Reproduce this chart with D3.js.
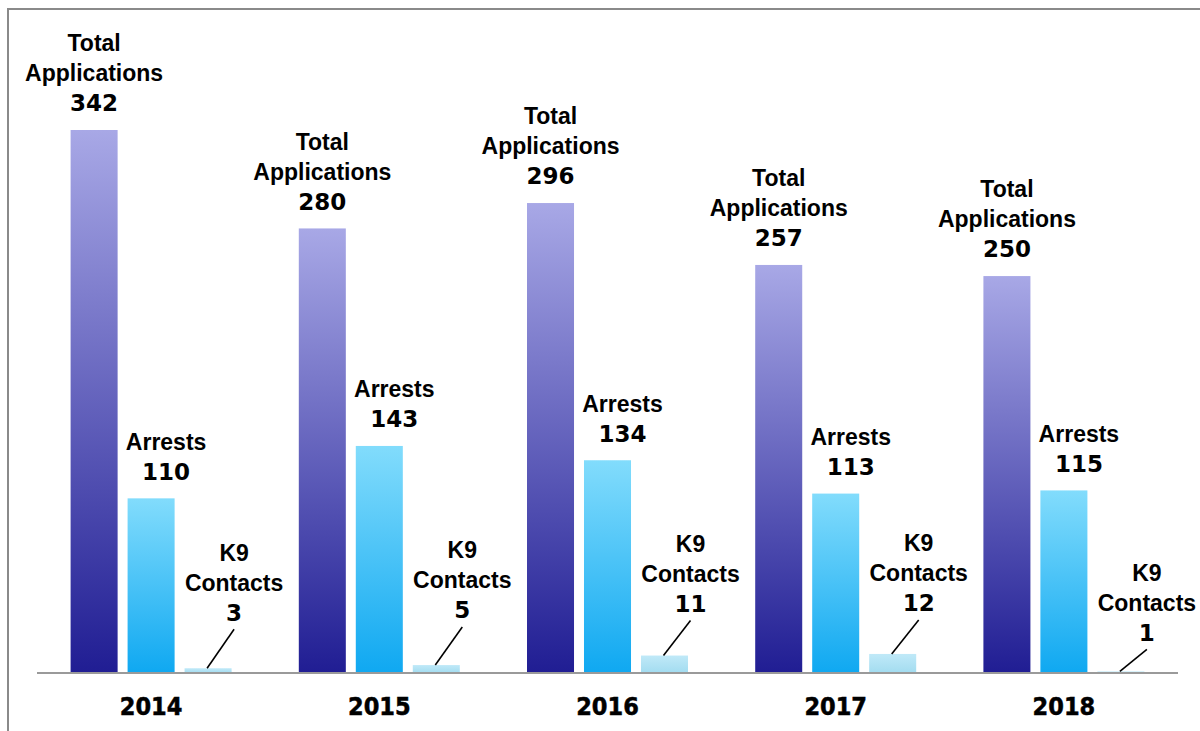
<!DOCTYPE html>
<html>
<head>
<meta charset="utf-8">
<script src="https://cdn.jsdelivr.net/npm/d3@7"></script>
<style>
  body { margin: 0; background: #fff; }
  text { font-family: "Liberation Sans", Arial, sans-serif; font-weight: bold; fill: #000; }
  text.num { font-family: "DejaVu Sans", sans-serif; }
  text.yr { font-family: "DejaVu Sans Condensed", "DejaVu Sans", sans-serif; font-stretch: condensed; }
</style>
</head>
<body>
<div class="chart"></div>
<script>
var years = ["2014", "2015", "2016", "2017", "2018"];
var series = ["Total Applications", "Arrests", "K9 Contacts"];
var totalApps = [342, 280, 296, 257, 250];
var arrests = [110, 143, 134, 113, 115];
var k9Contacts = [3, 5, 11, 12, 1];

// how far the K9 labels sit above their bars (hand placed in the original)
var k9Lift = [56, 55, 52, 51, 39];

var width = 1200, height = 731;
var baseY = 673;

var svg = d3.select(".chart").append("svg")
  .attr("width", width)
  .attr("height", height);

var defs = svg.append("defs");

function grad(id, top, bottom) {
  var g = defs.append("linearGradient")
    .attr("id", id)
    .attr("x1", 0).attr("y1", 0).attr("x2", 0).attr("y2", 1);
  g.append("stop").attr("offset", "0%").attr("stop-color", top);
  g.append("stop").attr("offset", "100%").attr("stop-color", bottom);
}
grad("g0", "#a8a8e6", "#201d93");
grad("g1", "#82dcfc", "#0fa8f1");
grad("g2", "#c0e9f8", "#a2dcf0");

// frame
svg.append("line")
  .attr("x1", 8).attr("x2", 8).attr("y1", 8).attr("y2", height)
  .attr("stroke", "#8a8a8a").attr("stroke-width", 2);
svg.append("line")
  .attr("x1", 8).attr("x2", width).attr("y1", 9).attr("y2", 9)
  .attr("stroke", "#8a8a8a").attr("stroke-width", 2);

var x0 = d3.scaleBand()
  .domain(years)
  .range([37, 1178])
  .paddingInner(0.2945)
  .paddingOuter(0.14725);

var x1 = d3.scaleBand()
  .domain(series)
  .range([0, x0.bandwidth()])
  .paddingInner(0.175);

var y = d3.scaleLinear()
  .domain([0, 342])
  .range([baseY, 130]);

var rows = years.map(function(yr, i) {
  return [
    {year: yr, s: series[0], v: totalApps[i], k: 0, lines: ["Total", "Applications"], dx: 0},
    {year: yr, s: series[1], v: arrests[i], k: 1, lines: ["Arrests"], dx: 15},
    {year: yr, s: series[2], v: k9Contacts[i], k: 2, lines: ["K9", "Contacts"], dx: 26, lift: k9Lift[i]}
  ];
});

var groups = svg.selectAll("g.year")
  .data(rows)
  .enter().append("g")
  .attr("class", "year")
  .attr("transform", function(d, i) { return "translate(" + x0(years[i]) + ",0)"; });

groups.selectAll("rect")
  .data(function(d) { return d; })
  .enter().append("rect")
  .attr("x", function(d) { return x1(d.s); })
  .attr("width", x1.bandwidth())
  .attr("y", function(d) { return y(d.v); })
  .attr("height", function(d) { return baseY - y(d.v); })
  .attr("fill", function(d) { return "url(#g" + d.k + ")"; });

// value labels
groups.each(function(row) {
  var g = d3.select(this);
  row.forEach(function(d) {
    var cx = x1(d.s) + x1.bandwidth() / 2;
    var lx = cx + d.dx;
    var lastY;
    if (d.k == 2) {
      lastY = y(d.v) - d.lift;
      g.append("line")
        .attr("x1", lx).attr("y1", lastY + 17)
        .attr("x2", cx - 1).attr("y2", y(d.v))
        .attr("stroke", "#000").attr("stroke-width", 1.6);
    } else {
      lastY = y(d.v) - 27;
    }
    var all = d.lines.concat([String(d.v)]);
    all.forEach(function(t, j) {
      var isNum = j == all.length - 1;
      g.append("text")
        .attr("class", isNum ? "num" : "lbl")
        .attr("x", lx)
        .attr("y", lastY - (all.length - 1 - j) * 30)
        .attr("dy", "0.36em")
        .attr("text-anchor", "middle")
        .style("font-size", "23px")
        .text(t);
    });
  });
});

// baseline
svg.append("line")
  .attr("x1", 37).attr("x2", 1178)
  .attr("y1", baseY).attr("y2", baseY)
  .attr("stroke", "#9a9a9a").attr("stroke-width", 2);

// year labels
svg.selectAll("text.yr")
  .data(years)
  .enter().append("text")
  .attr("class", "yr")
  .attr("x", function(d) { return x0(d) + x0.bandwidth() / 2; })
  .attr("y", 706)
  .attr("dy", "0.36em")
  .attr("text-anchor", "middle")
  .style("font-size", "25px")
  .style("stroke", "#000")
  .style("stroke-width", 0.5)
  .text(function(d) { return d; });
</script>
</body>
</html>
